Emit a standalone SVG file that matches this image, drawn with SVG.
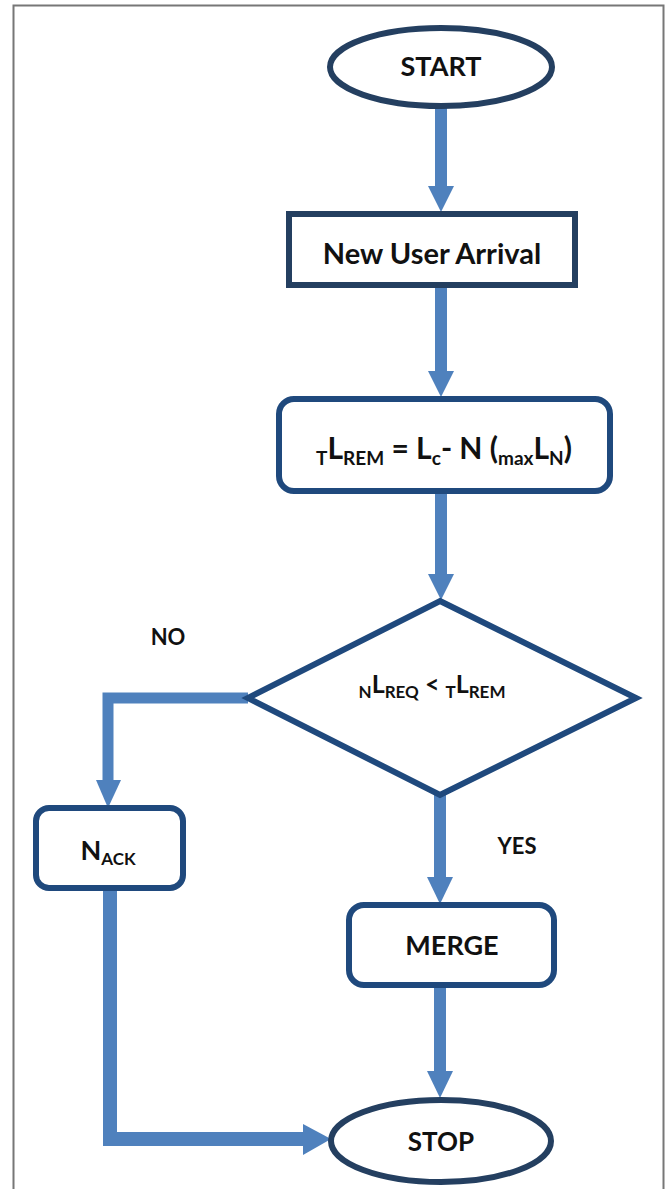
<svg xmlns="http://www.w3.org/2000/svg" width="668" height="1189" viewBox="0 0 668 1189">
<style>
.t{font-family:Lato,"Open Sans","Liberation Sans",sans-serif;font-weight:bold;fill:#111;text-anchor:middle}
.n1{fill:#fff;stroke:#243F60;stroke-width:6}
.n2{fill:#fff;stroke:#1F497D;stroke-width:6}
.c{fill:none;stroke:#4F81BD;stroke-linejoin:miter}
.h{fill:#4F81BD}
.s{font-size:19px}
</style>
<rect x="13.5" y="5.5" width="650" height="1200" fill="#fff" stroke="#777" stroke-width="2"/>
<g id="connectors">
<line class="c" x1="441" y1="107" x2="441" y2="188" stroke-width="12"/>
<polygon class="h" points="428,186 454,186 441,212"/>
<line class="c" x1="441" y1="285" x2="441" y2="373" stroke-width="12"/>
<polygon class="h" points="428,371 454,371 441,397"/>
<line class="c" x1="441" y1="491" x2="441" y2="576" stroke-width="12"/>
<polygon class="h" points="428,574 454,574 441,600"/>
<polyline class="c" points="248,698 108,698 108,782" stroke-width="11"/>
<polygon class="h" points="96,780 121,780 108,808"/>
<line class="c" x1="440" y1="795" x2="440" y2="879" stroke-width="12"/>
<polygon class="h" points="427,877 453,877 440,904"/>
<polyline class="c" points="110,888 110,1139 305,1139" stroke-width="14"/>
<polygon class="h" points="303,1124 303,1155 331,1139"/>
<line class="c" x1="440" y1="985" x2="440" y2="1073" stroke-width="12"/>
<polygon class="h" points="427,1071 453,1071 440,1098"/>
</g>
<g id="start"><ellipse class="n1" cx="441" cy="67" rx="111" ry="39"/><text class="t" x="441" y="76" font-size="27">START</text></g>
<g id="arrival"><rect class="n1" x="289" y="214" width="286" height="71"/><text class="t" x="432" y="264" font-size="29">New User Arrival</text></g>
<g id="calc"><rect class="n2" x="279" y="399" width="331" height="92" rx="15"/><text class="t" x="444" y="459" font-size="30"><tspan class="s" dy="6">T</tspan><tspan dy="-6">L</tspan><tspan class="s" dy="6">REM</tspan><tspan dy="-6"> = L</tspan><tspan class="s" dy="6">c</tspan><tspan dy="-6">- N (</tspan><tspan class="s" dy="6">max</tspan><tspan dy="-6">L</tspan><tspan class="s" dy="6">N</tspan><tspan dy="-6">)</tspan></text></g>
<g id="decision"><polygon class="n2" points="440,601 636,698 440,795 248,698"/><text class="t" x="432" y="693" font-size="25"><tspan font-size="17" dy="5">N</tspan><tspan dy="-5">L</tspan><tspan font-size="17" dy="5">REQ</tspan><tspan dy="-5"> &lt; </tspan><tspan font-size="17" dy="5">T</tspan><tspan dy="-5">L</tspan><tspan font-size="17" dy="5">REM</tspan></text></g>
<g id="nack"><rect class="n2" x="36" y="808" width="147" height="80" rx="13"/><text class="t" x="108" y="860" font-size="27"><tspan>N</tspan><tspan font-size="17" dy="5">ACK</tspan></text></g>
<g id="merge"><rect class="n2" x="349" y="905" width="205" height="80" rx="15"/><text class="t" x="452" y="955" font-size="27">MERGE</text></g>
<g id="stop"><ellipse class="n1" cx="441" cy="1141" rx="110" ry="41"/><text class="t" x="441" y="1151" font-size="26">STOP</text></g>
<g id="labels"><text class="t" x="168" y="645" font-size="22">NO</text><text class="t" x="517" y="854" font-size="22">YES</text></g>
</svg>
